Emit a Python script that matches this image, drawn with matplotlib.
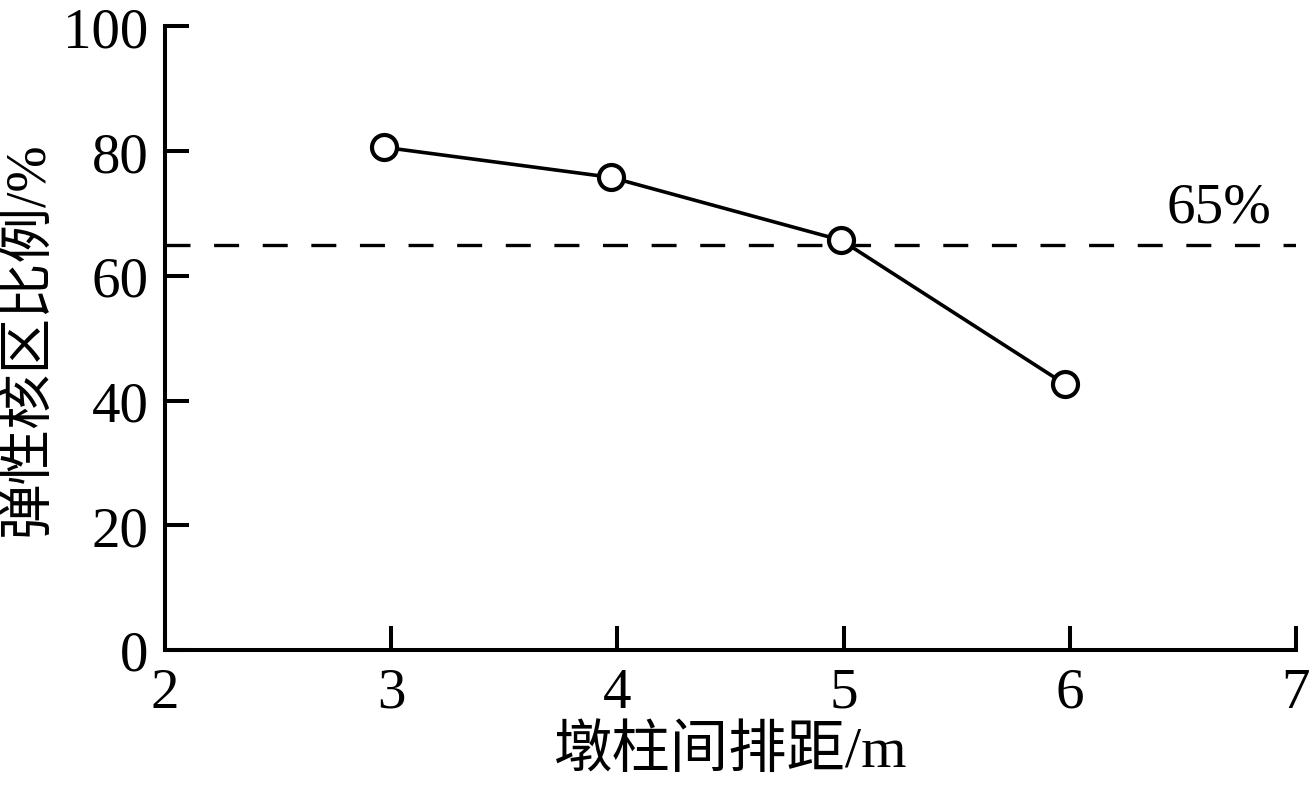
import matplotlib
matplotlib.use("Agg")
import matplotlib.pyplot as plt

# data
spacing = [2.97, 3.97, 4.99, 5.98]      # 墩柱间排距 / m
ratio = [80.6, 75.8, 65.7, 42.6]        # 弹性核区比例 / %
threshold = 65
x_ticks = [2, 3, 4, 5, 6, 7]
y_ticks = [0, 20, 40, 60, 80, 100]

plt.rcParams['font.family'] = ['Liberation Serif', 'Noto Sans CJK SC']
plt.rcParams['lines.scale_dashes'] = False

fig = plt.figure(figsize=(13.13, 8.04), dpi=100)
ax = fig.add_axes([0.1257, 0.1903, 0.987 - 0.1257, 0.966 - 0.1903])

ax.axhline(threshold, color='black', lw=2.4, dashes=(18, 17))
ax.plot(spacing, ratio, color='black', lw=2.6, marker='o', ms=18,
        mfc='white', mec='black', mew=3, zorder=3)
ax.text(6.66, 66.8, '65%', fontsize=41, ha='center', va='bottom')

ax.set_xlim(2, 7)
ax.set_ylim(0, 100)
ax.set_xticks(x_ticks)
ax.set_yticks(y_ticks)
ax.spines['top'].set_visible(False)
ax.spines['right'].set_visible(False)
for s in ('left', 'bottom'):
    ax.spines[s].set_linewidth(2.9)
ax.tick_params(direction='in', length=17, width=2.9, labelsize=41, pad=12)

ax.set_xlabel('墩柱间排距/m', fontsize=42, labelpad=4)
ax.set_ylabel('弹性核区比例/%', fontsize=40, labelpad=6)

fig.savefig('out.png', dpi=100)
